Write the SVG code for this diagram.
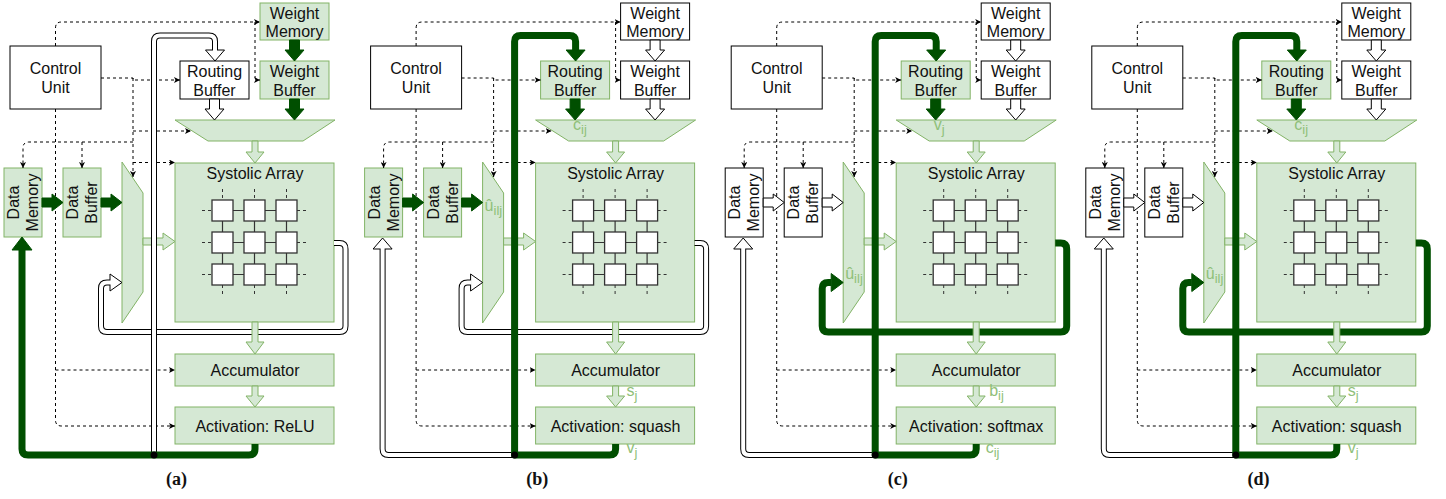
<svg xmlns="http://www.w3.org/2000/svg" xmlns:xlink="http://www.w3.org/1999/xlink" width="1446" height="499" viewBox="0 0 1446 499">
  <style>
    .gn { fill:#d5e8d4; stroke:#82b366; stroke-width:1; }
    .wn { fill:#ffffff; stroke:#000000; stroke-width:1; }
    .tx { font-family:"Liberation Sans", Arial, sans-serif; font-size:16px; fill:#111111; text-anchor:middle; }
    .lb { font-family:"Liberation Sans", Arial, sans-serif; font-size:16px; fill:#8fc079; }
    .sb { font-size:13px; }
    .cap { font-family:"Liberation Serif", "Times New Roman", serif; font-size:18px; font-weight:bold; fill:#111111; text-anchor:middle; }
    .ctl { fill:none; stroke:#000000; stroke-width:1; stroke-dasharray:3 3; marker-end:url(#ah); }
    .dk { fill:#004f00; stroke:#004f00; stroke-width:1; stroke-linejoin:round; }
    .wa { fill:#ffffff; stroke:#000000; stroke-width:1; }
    .la { fill:#d5e8d4; stroke:#82b366; stroke-width:1; }
    .thk { fill:none; stroke:#004f00; stroke-width:7; stroke-linejoin:round; }
    .dbo { fill:none; stroke:#000000; stroke-width:6; stroke-linejoin:round; }
    .dbi { fill:none; stroke:#ffffff; stroke-width:4; stroke-linejoin:round; }
    .pe { fill:#ffffff; stroke:#333333; stroke-width:1.3; }
    .pl { fill:none; stroke:#333333; stroke-width:1.2; }
    .pd { fill:none; stroke:#333333; stroke-width:1; stroke-dasharray:3 3; }
    .dot { fill:#000000; }
  </style>
  <defs>
    <marker id="ah" viewBox="0 0 8 8" refX="8" refY="4" markerWidth="6" markerHeight="6" orient="auto" markerUnits="userSpaceOnUse">
      <path d="M0,0 L8,4 L0,8 L2,4 z" fill="#000000" stroke="none"/>
    </marker>
    <!-- 3x3 processing-element grid inside the systolic array -->
    <g id="pe-grid">
      <path class="pl" d="M222.5 210.5 H286.5 M222.5 242.5 H286.5 M222.5 274.5 H286.5 M222.5 210.5 V274.5 M254.5 210.5 V274.5 M286.5 210.5 V274.5"/>
      <path class="pd" d="M202 210.5 H212 M202 242.5 H212 M202 274.5 H212 M297 210.5 H308 M297 242.5 H308 M297 274.5 H308 M222.5 189 V200 M254.5 189 V200 M286.5 189 V200 M222.5 285 V296 M254.5 285 V296 M286.5 285 V296"/>
      <rect class="pe" x="212" y="200" width="21" height="21"/>
      <rect class="pe" x="244" y="200" width="21" height="21"/>
      <rect class="pe" x="276" y="200" width="21" height="21"/>
      <rect class="pe" x="212" y="232" width="21" height="21"/>
      <rect class="pe" x="244" y="232" width="21" height="21"/>
      <rect class="pe" x="276" y="232" width="21" height="21"/>
      <rect class="pe" x="212" y="264" width="21" height="21"/>
      <rect class="pe" x="244" y="264" width="21" height="21"/>
      <rect class="pe" x="276" y="264" width="21" height="21"/>
    </g>
    <!-- dashed control signals from the control unit -->
    <g id="ctrl-lines">
      <path class="ctl" d="M55.5 46 V28 Q55.5 22 61.5 22 H260"/>
      <path class="ctl" d="M255 22 V76 Q255 80 259 80 H260"/>
      <path class="ctl" d="M101 78 H133 V80 H180"/>
      <path class="ctl" d="M133 78 V177"/>
      <path class="ctl" d="M133 131 H191"/>
      <path class="ctl" d="M133 162.5 H175"/>
      <path class="ctl" d="M133 142 H29 Q23 142 23 148 V168"/>
      <path class="ctl" d="M82 142 V168"/>
      <path class="ctl" d="M55.5 109 V420 Q55.5 426 61.5 426 H175"/>
      <path class="ctl" d="M55.5 370 H175"/>
    </g>
    <!-- light-green datapath arrows shared by all panels -->
    <g id="green-arrows">
      <polygon class="la" points="252,141 258,141 258,152 264,152 255,163 246,152 252,152"/>
      <polygon class="la" points="143,238 163,238 163,233 175,241.5 163,250 163,245 143,245"/>
      <polygon class="la" points="252,322 258,322 258,342 264,342 255,354 246,342 252,342"/>
      <polygon class="la" points="252,386 258,386 258,396 264,396 255,407 246,396 252,396"/>
    </g>
  </defs>

  <rect x="0" y="0" width="1446" height="499" fill="#ffffff"/>

  <!-- ===================== (a) ===================== -->
  <g id="panel-a">
    <g id="a-control-unit"><rect class="wn" x="10" y="46" width="91" height="63"/><text class="tx"><tspan x="55.5" y="74">Control</tspan><tspan x="55.5" y="92.5">Unit</tspan></text></g>
    <g id="a-weight-memory"><rect class="gn" x="260" y="3" width="69" height="37"/><text class="tx"><tspan x="294.5" y="18.5">Weight</tspan><tspan x="294.5" y="37">Memory</tspan></text></g>
    <g id="a-routing-buffer"><rect class="wn" x="180" y="61" width="69" height="38"/><text class="tx"><tspan x="214.5" y="77">Routing</tspan><tspan x="214.5" y="95.5">Buffer</tspan></text></g>
    <g id="a-weight-buffer"><rect class="gn" x="260" y="61" width="69" height="38"/><text class="tx"><tspan x="294.5" y="77">Weight</tspan><tspan x="294.5" y="95.5">Buffer</tspan></text></g>
    <g id="a-weight-mux"><polygon class="gn" points="175,120 335,120 303,141 208,141"/></g>
    <g id="a-data-memory"><rect class="gn" x="4" y="168" width="38" height="69"/><text class="tx" transform="translate(23,202.5) rotate(-90)"><tspan x="0" y="-4">Data</tspan><tspan x="0" y="15">Memory</tspan></text></g>
    <g id="a-data-buffer"><rect class="gn" x="63" y="168" width="38" height="69"/><text class="tx" transform="translate(82,202.5) rotate(-90)"><tspan x="0" y="-4">Data</tspan><tspan x="0" y="15">Buffer</tspan></text></g>
    <g id="a-data-mux"><polygon class="gn" points="122,162 143,193 143,292 122,323"/></g>
    <g id="a-systolic-array"><rect class="gn" x="175" y="163" width="159" height="159"/><text class="tx" x="255" y="178.5">Systolic Array</text><use href="#pe-grid"/></g>
    <g id="a-accumulator"><rect class="gn" x="175" y="354" width="159" height="32"/><text class="tx" x="255" y="375.5">Accumulator</text></g>
    <g id="a-activation"><rect class="gn" x="175" y="407" width="159" height="37"/><text class="tx" x="255" y="431.5">Activation: ReLU</text></g>
    <g id="a-connectors">
      <use href="#ctrl-lines"/>
      <path class="dbo" d="M334 243 H339.5 Q345.5 243 345.5 249 V326 Q345.5 332 339.5 332 H107 Q101 332 101 326 V288.5 Q101 282.5 107 282.5 H110"/>
      <polygon class="wa" points="110,274 122,282.5 110,291"/>
      <path class="dbi" d="M334 243 H339.5 Q345.5 243 345.5 249 V326 Q345.5 332 339.5 332 H107 Q101 332 101 326 V288.5 Q101 282.5 107 282.5 H111"/>
      <polygon class="dk" points="289.5,40 299.5,40 299.5,50 304,50 294.5,61 285,50 289.5,50"/>
      <polygon class="dk" points="289.5,99 299.5,99 299.5,109 304,109 294.5,120 285,109 289.5,109"/>
      <polygon class="wa" points="209.5,99 219.5,99 219.5,109 224,109 214.5,120 205,109 209.5,109"/>
      <polygon class="dk" points="42,198 52,198 52,194 63,202.5 52,211 52,207 42,207"/>
      <polygon class="dk" points="101,198 111,198 111,194 122,202.5 111,211 111,207 101,207"/>
      <use href="#green-arrows"/>
      <path class="dbo" d="M154 455 V41.5 Q154 35.5 160 35.5 H209 Q215 35.5 215 41.5 V50"/>
      <polygon class="wa" points="205.5,50 224.5,50 215,61"/>
      <path class="dbi" d="M154 455 V41.5 Q154 35.5 160 35.5 H209 Q215 35.5 215 41.5 V51"/>
      <path class="thk" d="M255 444 V449 Q255 455 249 455 H28 Q22 455 22 449 V249"/>
      <polygon class="dk" points="12,250 32,250 22,237"/>
      <circle class="dot" cx="154" cy="455" r="3.5"/>
    </g>
    <text class="cap" x="176.6" y="485">(a)</text>
  </g>

  <!-- ===================== (b) ===================== -->
  <g id="panel-b" transform="translate(360.6,0)">
    <g id="b-control-unit"><rect class="wn" x="10" y="46" width="91" height="63"/><text class="tx"><tspan x="55.5" y="74">Control</tspan><tspan x="55.5" y="92.5">Unit</tspan></text></g>
    <g id="b-weight-memory"><rect class="wn" x="260" y="3" width="69" height="37"/><text class="tx"><tspan x="294.5" y="18.5">Weight</tspan><tspan x="294.5" y="37">Memory</tspan></text></g>
    <g id="b-routing-buffer"><rect class="gn" x="180" y="61" width="69" height="38"/><text class="tx"><tspan x="214.5" y="77">Routing</tspan><tspan x="214.5" y="95.5">Buffer</tspan></text></g>
    <g id="b-weight-buffer"><rect class="wn" x="260" y="61" width="69" height="38"/><text class="tx"><tspan x="294.5" y="77">Weight</tspan><tspan x="294.5" y="95.5">Buffer</tspan></text></g>
    <g id="b-weight-mux"><polygon class="gn" points="175,120 335,120 303,141 208,141"/><text class="lb" x="212.5" y="130">c<tspan class="sb" dy="4">ij</tspan></text></g>
    <g id="b-data-memory"><rect class="gn" x="4" y="168" width="38" height="69"/><text class="tx" transform="translate(23,202.5) rotate(-90)"><tspan x="0" y="-4">Data</tspan><tspan x="0" y="15">Memory</tspan></text></g>
    <g id="b-data-buffer"><rect class="gn" x="63" y="168" width="38" height="69"/><text class="tx" transform="translate(82,202.5) rotate(-90)"><tspan x="0" y="-4">Data</tspan><tspan x="0" y="15">Buffer</tspan></text></g>
    <g id="b-data-mux"><polygon class="gn" points="122,162 143,193 143,292 122,323"/><text class="lb" x="124" y="211">û<tspan class="sb" dy="4">ilj</tspan></text></g>
    <g id="b-systolic-array"><rect class="gn" x="175" y="163" width="159" height="159"/><text class="tx" x="255" y="178.5">Systolic Array</text><use href="#pe-grid"/></g>
    <g id="b-accumulator"><rect class="gn" x="175" y="354" width="159" height="32"/><text class="tx" x="255" y="375.5">Accumulator</text></g>
    <g id="b-activation"><rect class="gn" x="175" y="407" width="159" height="37"/><text class="tx" x="255" y="431.5">Activation: squash</text></g>
    <g id="b-connectors">
      <use href="#ctrl-lines"/>
      <path class="dbo" d="M334 243 H339.5 Q345.5 243 345.5 249 V326 Q345.5 332 339.5 332 H107 Q101 332 101 326 V288.5 Q101 282.5 107 282.5 H110"/>
      <polygon class="wa" points="110,274 122,282.5 110,291"/>
      <path class="dbi" d="M334 243 H339.5 Q345.5 243 345.5 249 V326 Q345.5 332 339.5 332 H107 Q101 332 101 326 V288.5 Q101 282.5 107 282.5 H111"/>
      <polygon class="wa" points="289.5,40 299.5,40 299.5,50 304,50 294.5,61 285,50 289.5,50"/>
      <polygon class="wa" points="289.5,99 299.5,99 299.5,109 304,109 294.5,120 285,109 289.5,109"/>
      <polygon class="dk" points="209.5,99 219.5,99 219.5,109 224,109 214.5,120 205,109 209.5,109"/>
      <polygon class="dk" points="42,198 52,198 52,194 63,202.5 52,211 52,207 42,207"/>
      <polygon class="dk" points="101,198 111,198 111,194 122,202.5 111,211 111,207 101,207"/>
      <use href="#green-arrows"/>
      <path class="dbo" d="M154 455 H28 Q22 455 22 449 V249"/>
      <polygon class="wa" points="12.5,249 31.5,249 22,238"/>
      <path class="dbi" d="M154 455 H28 Q22 455 22 449 V248"/>
      <path class="thk" d="M255 444 V449 Q255 455 249 455 H154 V41.5 Q154 35.5 160 35.5 H209 Q215 35.5 215 41.5 V50"/>
      <polygon class="dk" points="205.5,50 224.5,50 215,61"/>
      <circle class="dot" cx="154" cy="455" r="3.5"/>
    </g>
    <text class="lb" x="266" y="396">s<tspan class="sb" dy="4">j</tspan></text>
    <text class="lb" x="266" y="453">v<tspan class="sb" dy="4">j</tspan></text>
    <text class="cap" x="176.6" y="485">(b)</text>
  </g>

  <!-- ===================== (c) ===================== -->
  <g id="panel-c" transform="translate(721.2,0)">
    <g id="c-control-unit"><rect class="wn" x="10" y="46" width="91" height="63"/><text class="tx"><tspan x="55.5" y="74">Control</tspan><tspan x="55.5" y="92.5">Unit</tspan></text></g>
    <g id="c-weight-memory"><rect class="wn" x="260" y="3" width="69" height="37"/><text class="tx"><tspan x="294.5" y="18.5">Weight</tspan><tspan x="294.5" y="37">Memory</tspan></text></g>
    <g id="c-routing-buffer"><rect class="gn" x="180" y="61" width="69" height="38"/><text class="tx"><tspan x="214.5" y="77">Routing</tspan><tspan x="214.5" y="95.5">Buffer</tspan></text></g>
    <g id="c-weight-buffer"><rect class="wn" x="260" y="61" width="69" height="38"/><text class="tx"><tspan x="294.5" y="77">Weight</tspan><tspan x="294.5" y="95.5">Buffer</tspan></text></g>
    <g id="c-weight-mux"><polygon class="gn" points="175,120 335,120 303,141 208,141"/><text class="lb" x="212.5" y="130">v<tspan class="sb" dy="4">j</tspan></text></g>
    <g id="c-data-memory"><rect class="wn" x="4" y="168" width="38" height="69"/><text class="tx" transform="translate(23,202.5) rotate(-90)"><tspan x="0" y="-4">Data</tspan><tspan x="0" y="15">Memory</tspan></text></g>
    <g id="c-data-buffer"><rect class="wn" x="63" y="168" width="38" height="69"/><text class="tx" transform="translate(82,202.5) rotate(-90)"><tspan x="0" y="-4">Data</tspan><tspan x="0" y="15">Buffer</tspan></text></g>
    <g id="c-data-mux"><polygon class="gn" points="122,162 143,193 143,292 122,323"/><text class="lb" x="124" y="279">û<tspan class="sb" dy="4">ilj</tspan></text></g>
    <g id="c-systolic-array"><rect class="gn" x="175" y="163" width="159" height="159"/><text class="tx" x="255" y="178.5">Systolic Array</text><use href="#pe-grid"/></g>
    <g id="c-accumulator"><rect class="gn" x="175" y="354" width="159" height="32"/><text class="tx" x="255" y="375.5">Accumulator</text></g>
    <g id="c-activation"><rect class="gn" x="175" y="407" width="159" height="37"/><text class="tx" x="255" y="431.5">Activation: softmax</text></g>
    <g id="c-connectors">
      <use href="#ctrl-lines"/>
      <path class="thk" d="M334 243 H339.5 Q345.5 243 345.5 249 V326 Q345.5 332 339.5 332 H107 Q101 332 101 326 V288.5 Q101 282.5 107 282.5 H110"/>
      <polygon class="dk" points="110,273.5 110,291.5 122,282.5"/>
      <polygon class="wa" points="289.5,40 299.5,40 299.5,50 304,50 294.5,61 285,50 289.5,50"/>
      <polygon class="wa" points="289.5,99 299.5,99 299.5,109 304,109 294.5,120 285,109 289.5,109"/>
      <polygon class="dk" points="209.5,99 219.5,99 219.5,109 224,109 214.5,120 205,109 209.5,109"/>
      <polygon class="wa" points="42,198 52,198 52,194 63,202.5 52,211 52,207 42,207"/>
      <polygon class="wa" points="101,198 111,198 111,194 122,202.5 111,211 111,207 101,207"/>
      <use href="#green-arrows"/>
      <path class="dbo" d="M154 455 H28 Q22 455 22 449 V249"/>
      <polygon class="wa" points="12.5,249 31.5,249 22,238"/>
      <path class="dbi" d="M154 455 H28 Q22 455 22 449 V248"/>
      <path class="thk" d="M255 444 V449 Q255 455 249 455 H154 V41.5 Q154 35.5 160 35.5 H209 Q215 35.5 215 41.5 V50"/>
      <polygon class="dk" points="205.5,50 224.5,50 215,61"/>
      <circle class="dot" cx="154" cy="455" r="3.5"/>
    </g>
    <text class="lb" x="268" y="396">b<tspan class="sb" dy="4">ij</tspan></text>
    <text class="lb" x="264.5" y="453">c<tspan class="sb" dy="4">ij</tspan></text>
    <text class="cap" x="176.6" y="485">(c)</text>
  </g>

  <!-- ===================== (d) ===================== -->
  <g id="panel-d" transform="translate(1081.8,0)">
    <g id="d-control-unit"><rect class="wn" x="10" y="46" width="91" height="63"/><text class="tx"><tspan x="55.5" y="74">Control</tspan><tspan x="55.5" y="92.5">Unit</tspan></text></g>
    <g id="d-weight-memory"><rect class="wn" x="260" y="3" width="69" height="37"/><text class="tx"><tspan x="294.5" y="18.5">Weight</tspan><tspan x="294.5" y="37">Memory</tspan></text></g>
    <g id="d-routing-buffer"><rect class="gn" x="180" y="61" width="69" height="38"/><text class="tx"><tspan x="214.5" y="77">Routing</tspan><tspan x="214.5" y="95.5">Buffer</tspan></text></g>
    <g id="d-weight-buffer"><rect class="wn" x="260" y="61" width="69" height="38"/><text class="tx"><tspan x="294.5" y="77">Weight</tspan><tspan x="294.5" y="95.5">Buffer</tspan></text></g>
    <g id="d-weight-mux"><polygon class="gn" points="175,120 335,120 303,141 208,141"/><text class="lb" x="212.5" y="130">c<tspan class="sb" dy="4">ij</tspan></text></g>
    <g id="d-data-memory"><rect class="wn" x="4" y="168" width="38" height="69"/><text class="tx" transform="translate(23,202.5) rotate(-90)"><tspan x="0" y="-4">Data</tspan><tspan x="0" y="15">Memory</tspan></text></g>
    <g id="d-data-buffer"><rect class="wn" x="63" y="168" width="38" height="69"/><text class="tx" transform="translate(82,202.5) rotate(-90)"><tspan x="0" y="-4">Data</tspan><tspan x="0" y="15">Buffer</tspan></text></g>
    <g id="d-data-mux"><polygon class="gn" points="122,162 143,193 143,292 122,323"/><text class="lb" x="124" y="279">û<tspan class="sb" dy="4">ilj</tspan></text></g>
    <g id="d-systolic-array"><rect class="gn" x="175" y="163" width="159" height="159"/><text class="tx" x="255" y="178.5">Systolic Array</text><use href="#pe-grid"/></g>
    <g id="d-accumulator"><rect class="gn" x="175" y="354" width="159" height="32"/><text class="tx" x="255" y="375.5">Accumulator</text></g>
    <g id="d-activation"><rect class="gn" x="175" y="407" width="159" height="37"/><text class="tx" x="255" y="431.5">Activation: squash</text></g>
    <g id="d-connectors">
      <use href="#ctrl-lines"/>
      <path class="thk" d="M334 243 H339.5 Q345.5 243 345.5 249 V326 Q345.5 332 339.5 332 H107 Q101 332 101 326 V288.5 Q101 282.5 107 282.5 H110"/>
      <polygon class="dk" points="110,273.5 110,291.5 122,282.5"/>
      <polygon class="wa" points="289.5,40 299.5,40 299.5,50 304,50 294.5,61 285,50 289.5,50"/>
      <polygon class="wa" points="289.5,99 299.5,99 299.5,109 304,109 294.5,120 285,109 289.5,109"/>
      <polygon class="dk" points="209.5,99 219.5,99 219.5,109 224,109 214.5,120 205,109 209.5,109"/>
      <polygon class="wa" points="42,198 52,198 52,194 63,202.5 52,211 52,207 42,207"/>
      <polygon class="wa" points="101,198 111,198 111,194 122,202.5 111,211 111,207 101,207"/>
      <use href="#green-arrows"/>
      <path class="dbo" d="M154 455 H28 Q22 455 22 449 V249"/>
      <polygon class="wa" points="12.5,249 31.5,249 22,238"/>
      <path class="dbi" d="M154 455 H28 Q22 455 22 449 V248"/>
      <path class="thk" d="M255 444 V449 Q255 455 249 455 H154 V41.5 Q154 35.5 160 35.5 H209 Q215 35.5 215 41.5 V50"/>
      <polygon class="dk" points="205.5,50 224.5,50 215,61"/>
      <circle class="dot" cx="154" cy="455" r="3.5"/>
    </g>
    <text class="lb" x="266" y="396">s<tspan class="sb" dy="4">j</tspan></text>
    <text class="lb" x="266" y="453">v<tspan class="sb" dy="4">j</tspan></text>
    <text class="cap" x="176.6" y="485">(d)</text>
  </g>
</svg>
